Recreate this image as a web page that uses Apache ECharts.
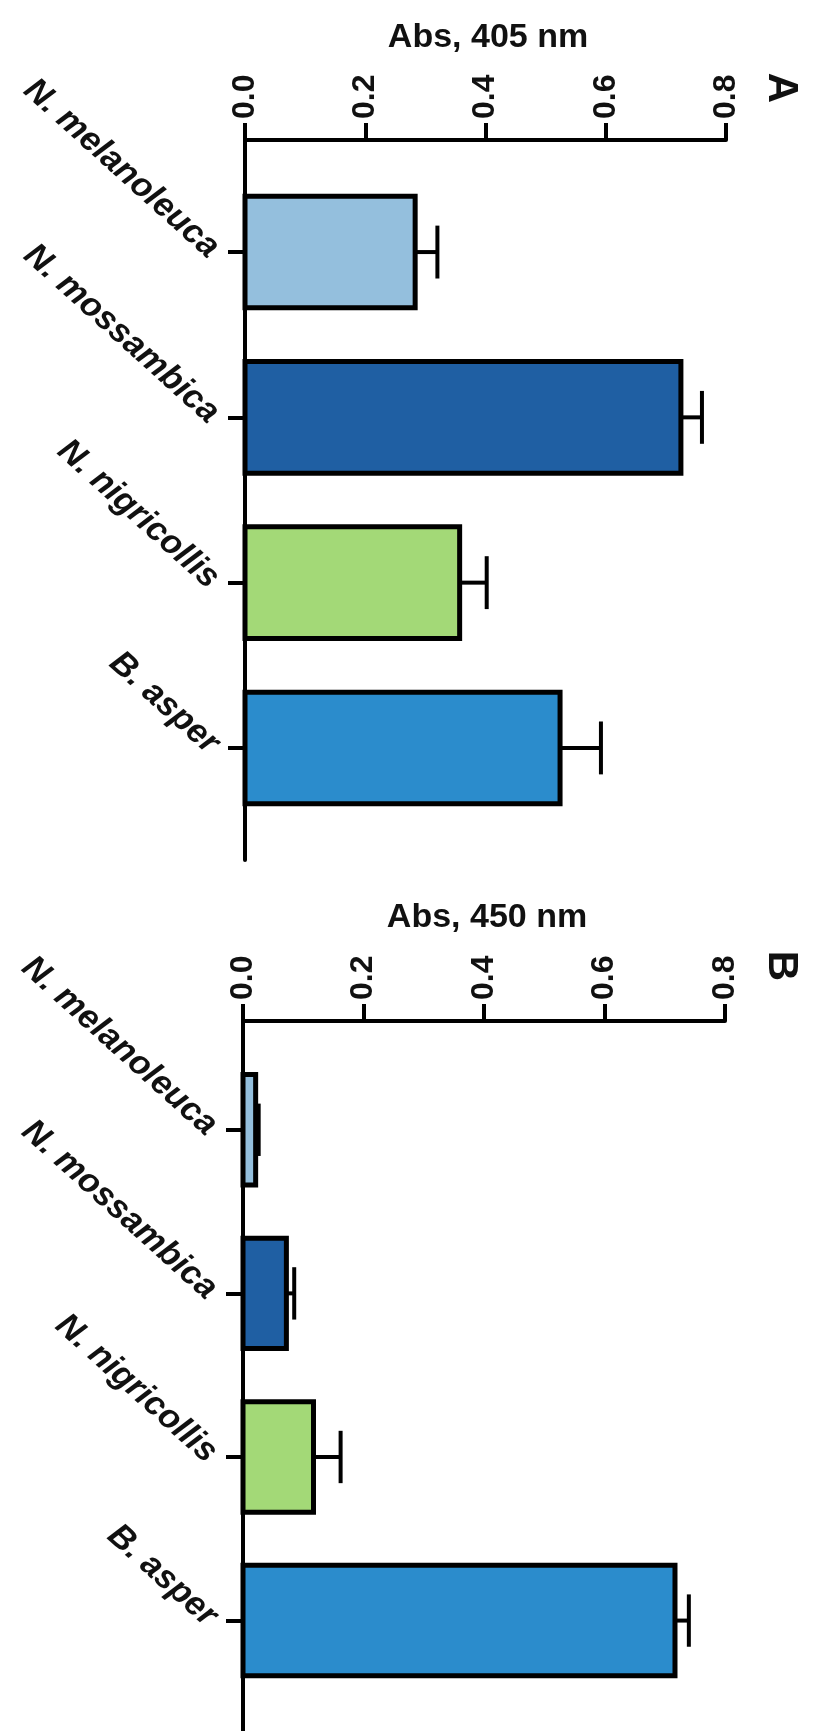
<!DOCTYPE html>
<html><head><meta charset="utf-8">
<script src="https://cdn.jsdelivr.net/npm/echarts@6/dist/echarts.min.js"></script>
<style>html,body{margin:0;padding:0;background:#fff}#c{width:822px;height:1731px}</style>
</head><body><div id="c"></div>
<script>
const categories = ['N. melanoleuca', 'N. mossambica', 'N. nigricollis', 'B. asper'];
const barColors = ['#94bfdd', '#1f5fa3', '#a3d977', '#2b8ccc'];
const absA = [0.283, 0.725, 0.357, 0.524];
const errA = [0.037, 0.035, 0.045, 0.068];
const absB = [0.021, 0.072, 0.117, 0.717];
const errB = [0.005, 0.013, 0.045, 0.023];
const axisTitles = ['Abs, 405 nm', 'Abs, 450 nm'];
const panelLetters = ['A', 'B'];
const catIndex = [0, 1, 2, 3];

const FONT = 'Liberation Sans, Arial, sans-serif';
const chart = echarts.init(document.getElementById('c'), null, {renderer: 'canvas'});

function xAxisFor(i) {
  return {
    type: 'value', gridIndex: i, position: 'top', min: 0, max: 0.8, interval: 0.2,
    axisLine: {show: true, onZero: false, lineStyle: {color: '#000', width: 4}},
    axisTick: {show: true, length: 17, lineStyle: {color: '#000', width: 4}},
    axisLabel: {rotate: -90, margin: 21, fontFamily: FONT, fontWeight: 'bold', fontSize: 32, color: '#111',
      formatter: v => v.toFixed(1)},
    splitLine: {show: false}
  };
}
function yAxisFor(i, mn, mx) {
  return {
    type: 'value', gridIndex: i, inverse: true, min: mn, max: mx,
    axisLine: {show: true, onZero: false, lineStyle: {color: '#000', width: 4}},
    axisTick: {show: true, length: 17, customValues: catIndex, lineStyle: {color: '#000', width: 4}},
    axisLabel: {show: true, customValues: catIndex, rotate: -42, margin: 31,
      fontFamily: FONT, fontWeight: 'bold', fontStyle: 'italic', fontSize: 34, color: '#111',
      formatter: v => categories[Math.round(v)] || ''},
    splitLine: {show: false}
  };
}
function barSeries(i, vals, errs) {
  return {
    type: 'custom', xAxisIndex: i, yAxisIndex: i,
    data: vals.map((v, k) => [v, k, errs[k]]),
    encode: {x: 0, y: 1},
    renderItem: function (params, api) {
      const v = api.value(0), k = api.value(1), e = api.value(2);
      const p0 = api.coord([0, k]);
      const p1 = api.coord([v, k]);
      const p2 = api.coord([v + e, k]);
      const band = Math.abs(api.size([0, 1])[1]);
      const bw = band * 0.675;
      const cap = band * 0.32;
      return {
        type: 'group',
        children: [
          {type: 'line', shape: {x1: p1[0], y1: p1[1], x2: p2[0], y2: p2[1]},
            style: {stroke: '#000', lineWidth: 4}},
          {type: 'line', shape: {x1: p2[0], y1: p2[1] - cap / 2, x2: p2[0], y2: p2[1] + cap / 2},
            style: {stroke: '#000', lineWidth: 4}},
          {type: 'rect', shape: {x: p0[0], y: p0[1] - bw / 2, width: p1[0] - p0[0], height: bw},
            style: {fill: barColors[k], stroke: '#000', lineWidth: 5}}
        ]
      };
    }
  };
}

function label(text, x, y, size, rot) {
  return {type: 'text', x: x, y: y, rotation: rot,
    style: {text: text, font: 'bold ' + size + 'px ' + FONT, fill: '#111', align: 'center', verticalAlign: 'middle'}};
}

chart.setOption({
  animation: false,
  backgroundColor: '#fff',
  grid: [
    {left: 245, top: 140, width: 481, height: 720},
    {left: 243, top: 1021, width: 482, height: 720}
  ],
  xAxis: [xAxisFor(0), xAxisFor(1)],
  yAxis: [yAxisFor(0, -0.678, 3.678), yAxisFor(1, -0.665, 3.675)],
  series: [barSeries(0, absA, errA), barSeries(1, absB, errB)],
  graphic: [
    label(axisTitles[0], 488, 38, 34, 0),
    label(axisTitles[1], 487, 918, 34, 0),
    label(panelLetters[0], 781, 88, 42, -Math.PI / 2),
    label(panelLetters[1], 781, 966, 42, -Math.PI / 2)
  ]
});
</script></body></html>
